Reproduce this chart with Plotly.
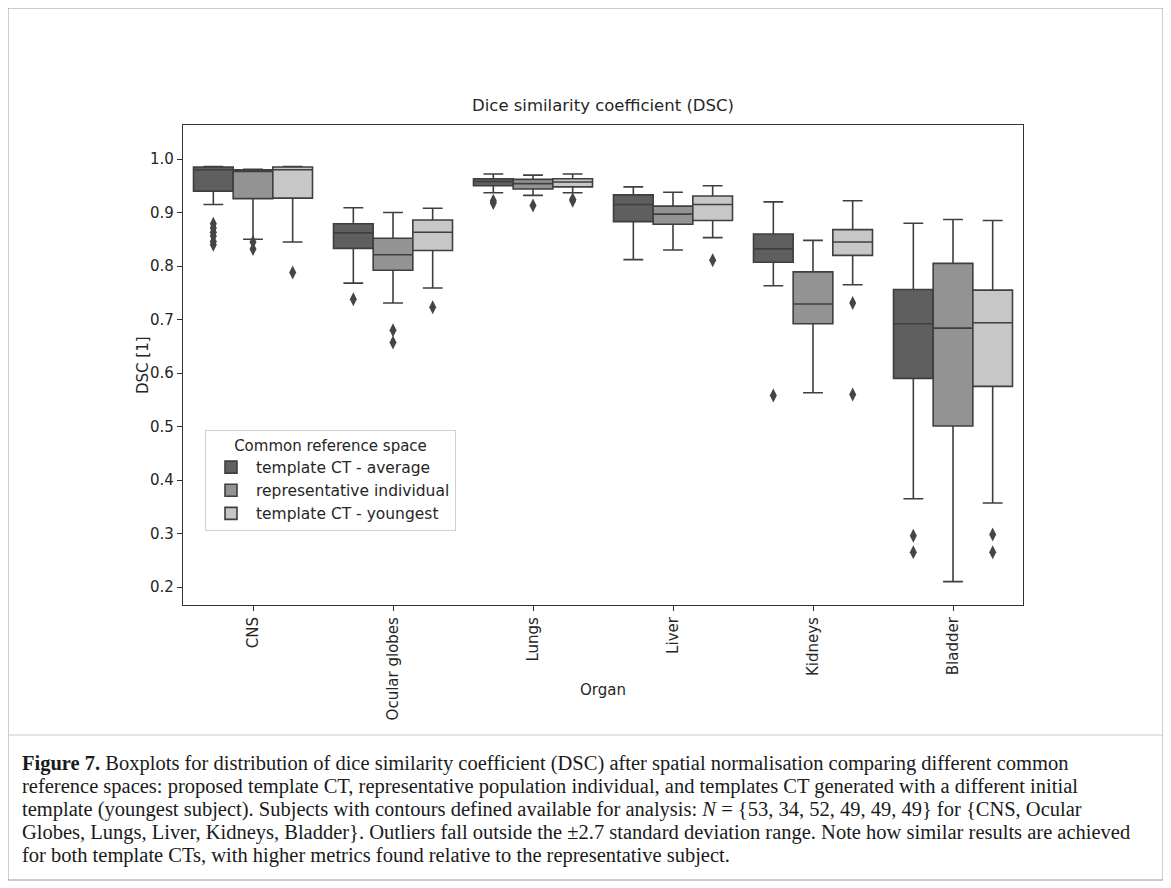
import plotly.graph_objects as go

organs = ["CNS", "Ocular globes", "Lungs", "Liver", "Kidneys", "Bladder"]
series = ["template CT - average", "representative individual", "template CT - youngest"]

# Box statistics per series (one value per organ)
avg_low = [0.915, 0.768, 0.937, 0.812, 0.763, 0.365]
avg_q1 = [0.940, 0.833, 0.950, 0.883, 0.807, 0.590]
avg_med = [0.980, 0.862, 0.958, 0.915, 0.832, 0.692]
avg_q3 = [0.985, 0.879, 0.963, 0.933, 0.860, 0.756]
avg_high = [0.986, 0.909, 0.972, 0.948, 0.920, 0.880]
avg_out_x = ["CNS"] * 6 + ["Ocular globes", "Lungs", "Lungs", "Kidneys", "Bladder", "Bladder"]
avg_out_y = [0.879, 0.871, 0.863, 0.856, 0.846, 0.840, 0.738, 0.922, 0.918, 0.558, 0.296, 0.265]

ind_low = [0.850, 0.731, 0.932, 0.830, 0.563, 0.210]
ind_q1 = [0.926, 0.792, 0.944, 0.878, 0.692, 0.501]
ind_med = [0.977, 0.821, 0.954, 0.897, 0.729, 0.684]
ind_q3 = [0.980, 0.852, 0.962, 0.912, 0.789, 0.805]
ind_high = [0.981, 0.900, 0.970, 0.938, 0.848, 0.887]
ind_out_x = ["CNS", "CNS", "Ocular globes", "Ocular globes", "Lungs"]
ind_out_y = [0.845, 0.832, 0.680, 0.657, 0.913]

yng_low = [0.845, 0.759, 0.937, 0.853, 0.765, 0.357]
yng_q1 = [0.927, 0.829, 0.948, 0.885, 0.820, 0.575]
yng_med = [0.980, 0.863, 0.957, 0.915, 0.845, 0.694]
yng_q3 = [0.985, 0.886, 0.963, 0.931, 0.868, 0.755]
yng_high = [0.986, 0.908, 0.972, 0.950, 0.922, 0.885]
yng_out_x = ["CNS", "Ocular globes", "Lungs", "Lungs", "Liver", "Kidneys", "Kidneys", "Bladder", "Bladder"]
yng_out_y = [0.788, 0.723, 0.925, 0.922, 0.811, 0.731, 0.560, 0.298, 0.265]

y_ticks = [0.2, 0.3, 0.4, 0.5, 0.6, 0.7, 0.8, 0.9, 1.0]

caption_lines = [
    "<b>Figure 7.</b> Boxplots for distribution of dice similarity coefficient (DSC) after spatial normalisation comparing different common",
    "reference spaces: proposed template CT, representative population individual, and templates CT generated with a different initial",
    "template (youngest subject). Subjects with contours defined available for analysis: <i>N</i> = {53, 34, 52, 49, 49, 49} for {CNS, Ocular",
    "Globes, Lungs, Liver, Kidneys, Bladder}. Outliers fall outside the \u00b12.7 standard deviation range. Note how similar results are achieved",
    "for both template CTs, with higher metrics found relative to the representative subject.",
]

fills = ["#5f5f5f", "#939393", "#c7c7c7"]
edge = "#3f3f3f"
stats = [
    (avg_low, avg_q1, avg_med, avg_q3, avg_high, avg_out_x, avg_out_y),
    (ind_low, ind_q1, ind_med, ind_q3, ind_high, ind_out_x, ind_out_y),
    (yng_low, yng_q1, yng_med, yng_q3, yng_high, yng_out_x, yng_out_y),
]

fig = go.Figure()
for i, (name, st) in enumerate(zip(series, stats)):
    lo, q1, med, q3, hi, ox, oy = st
    fig.add_trace(go.Box(
        name=name, x=organs, lowerfence=lo, q1=q1, median=med, q3=q3, upperfence=hi,
        fillcolor=fills[i], line=dict(color=edge, width=1.6), whiskerwidth=0.5,
        offsetgroup=str(i), boxpoints=False,
    ))
for i, (name, st) in enumerate(zip(series, stats)):
    lo, q1, med, q3, hi, ox, oy = st
    fig.add_trace(go.Scatter(
        x=ox, y=oy, mode="markers", offsetgroup=str(i), showlegend=False,
        marker=dict(symbol="diamond-tall", size=10, color="#454545", line=dict(width=0)),
    ))

W, H = 1171, 888
OFF = 8  # page body margin
L, T = 183 - OFF, 125 - OFF
pw, ph = 840, 480
R = W - L - pw
B = H - T - ph

def px(xs):
    return (xs - OFF - L) / pw

def py(ys):
    return (T + ph - (ys - OFF)) / ph

fig.update_layout(
    width=W, height=H,
    margin=dict(l=L, r=R, t=T, b=B),
    paper_bgcolor="white", plot_bgcolor="white",
    font=dict(family="DejaVu Sans", size=15, color="#262626"),
    boxmode="group", boxgap=0.15, boxgroupgap=0.0,
    scattermode="group", scattergap=0.15,
    title=dict(text="Dice similarity coefficient (DSC)", x=0.5, xref="paper",
               y=1 - (105 - OFF) / H, yref="container", yanchor="middle",
               font=dict(size=16.5, color="#262626")),
    xaxis=dict(type="category", categoryorder="array",
               categoryarray=organs, tickangle=-90, showline=True, mirror=True,
               linecolor="#333333", linewidth=1.2, ticks="outside", ticklen=5,
               tickcolor="#333333", showgrid=False, zeroline=False),
    yaxis=dict(range=[0.1664, 1.0636], tickvals=y_ticks,
               tickformat=".1f", showline=True, mirror=True, linecolor="#333333",
               linewidth=1.2, ticks="outside", ticklen=5, tickcolor="#333333",
               showgrid=False, zeroline=False),
    legend=dict(x=px(205), y=py(430), xanchor="left", yanchor="top",
                bgcolor="white", bordercolor="#d0d0d0", borderwidth=1,
                title=dict(text="Common reference space", side="top center", font=dict(size=15)),
                font=dict(size=15.5), tracegroupgap=0, itemwidth=40),
)

fig.add_annotation(text="Organ", xref="paper", yref="paper", x=0.5, y=py(690),
                   xanchor="center", yanchor="middle", showarrow=False,
                   font=dict(size=15, color="#262626"))
fig.add_annotation(text="DSC [1]", xref="paper", yref="paper", x=px(143), y=0.5,
                   xanchor="center", yanchor="middle", showarrow=False, textangle=-90,
                   font=dict(size=15, color="#262626"))

# figure frame and separator line
fig.add_shape(type="rect", xref="paper", yref="paper", x0=px(8), x1=px(1163), y0=py(880), y1=py(8),
              line=dict(color="#9a9a9a", width=1), layer="below")
fig.add_shape(type="line", xref="paper", yref="paper", x0=px(8), x1=px(1163), y0=py(735), y1=py(735),
              line=dict(color="#c8c8c8", width=1))

for k, line in enumerate(caption_lines):
    fig.add_annotation(text=line, xref="paper", yref="paper", x=px(20), y=py(763 + 23 * k),
                       xanchor="left", yanchor="middle", align="left", showarrow=False,
                       font=dict(family="Liberation Serif", size=20.5, color="#1a1a1a"))

fig.write_html("out.html")
